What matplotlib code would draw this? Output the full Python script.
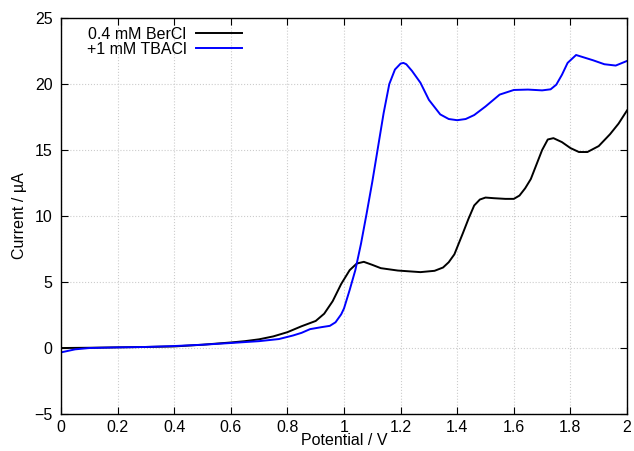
import matplotlib
matplotlib.use('Agg')
import matplotlib.pyplot as plt

plt.rcParams['font.family'] = ['Liberation Sans', 'DejaVu Sans']

# ---- data ----
x_ber = [0, 0.1, 0.2, 0.3, 0.4, 0.5, 0.6, 0.65, 0.7, 0.75, 0.8, 0.85, 0.9, 0.93,
         0.96, 0.99, 1.02, 1.045, 1.07, 1.1, 1.13, 1.19, 1.27, 1.32, 1.35, 1.37,
         1.39, 1.42, 1.44, 1.46, 1.48, 1.5, 1.53, 1.57, 1.6, 1.62, 1.64, 1.66,
         1.68, 1.7, 1.72, 1.74, 1.77, 1.8, 1.83, 1.86, 1.9, 1.94, 1.97, 2.0]
y_ber = [0.0, 0.02, 0.05, 0.08, 0.12, 0.25, 0.42, 0.52, 0.66, 0.88, 1.2, 1.65, 2.05, 2.6,
         3.55, 4.85, 5.9, 6.4, 6.53, 6.3, 6.05, 5.87, 5.75, 5.85, 6.1, 6.5,
         7.1, 8.7, 9.8, 10.8, 11.25, 11.4, 11.35, 11.3, 11.3, 11.55, 12.1, 12.8,
         13.9, 15.0, 15.8, 15.9, 15.6, 15.15, 14.85, 14.85, 15.3, 16.2, 17.0, 18.0]

x_tba = [0, 0.05, 0.1, 0.2, 0.3, 0.4, 0.5, 0.6, 0.7, 0.77, 0.82, 0.85, 0.88, 0.92,
         0.95, 0.97, 0.99, 1.0, 1.02, 1.04, 1.06, 1.08, 1.1, 1.12, 1.14, 1.16, 1.18,
         1.2, 1.21, 1.22, 1.24, 1.27, 1.3, 1.34, 1.37, 1.4, 1.43, 1.46, 1.5, 1.55,
         1.6, 1.65, 1.7, 1.73, 1.75, 1.77, 1.79, 1.82, 1.85, 1.88, 1.92, 1.96, 2.0]
y_tba = [-0.33, -0.1, 0.0, 0.05, 0.08, 0.15, 0.25, 0.38, 0.52, 0.68, 0.95, 1.15, 1.43, 1.58,
         1.68, 1.95, 2.55, 3.0, 4.4, 5.9, 7.9, 10.2, 12.6, 15.2, 17.8, 20.0, 21.1,
         21.55, 21.6, 21.5, 21.0, 20.1, 18.8, 17.7, 17.35, 17.26, 17.35, 17.65, 18.3, 19.2,
         19.55, 19.58, 19.52, 19.6, 19.95, 20.7, 21.6, 22.2, 22.0, 21.8, 21.5, 21.4, 21.75]

labels = ['0.4 mM BerCl', '+1 mM TBACl']
xticks = [0, 0.2, 0.4, 0.6, 0.8, 1.0, 1.2, 1.4, 1.6, 1.8, 2.0]
xticklabels = ['0', '0.2', '0.4', '0.6', '0.8', '1', '1.2', '1.4', '1.6', '1.8', '2']
yticks = [-5, 0, 5, 10, 15, 20, 25]

# ---- plot ----
fig = plt.figure(figsize=(6.34, 4.51), dpi=100)
ax = fig.add_axes([0.0962, 0.082, 0.8928, 0.878])

ax.plot(x_ber, y_ber, color='black', lw=1.4, label=labels[0])
ax.plot(x_tba, y_tba, color='#0000ff', lw=1.4, label=labels[1])

ax.set_xlim(0, 2)
ax.set_ylim(-5, 25)
ax.set_xticks(xticks)
ax.set_xticklabels(xticklabels)
ax.set_yticks(yticks)
ax.set_yticklabels(['\u22125', '0', '5', '10', '15', '20', '25'])
ax.tick_params(direction='in', top=True, right=True, length=5, width=0.8,
               labelsize=11.5, pad=6)
ax.tick_params(axis='x', pad=4)
ax.grid(True, linestyle=':', color='#cccccc', lw=0.8)
for s in ax.spines.values():
    s.set_linewidth(1.0)

ax.set_xlabel('Potential / V', fontsize=11.5, labelpad=-1)
ax.set_ylabel('Current / µA', fontsize=11.5, labelpad=5)

ax.legend(loc='upper left', frameon=False, markerfirst=False, fontsize=11.5,
          handlelength=2.9, handletextpad=0.6, labelspacing=0.0,
          borderaxespad=0.15, bbox_to_anchor=(0.03, 1.0))

fig.savefig('out.png', dpi=100)
